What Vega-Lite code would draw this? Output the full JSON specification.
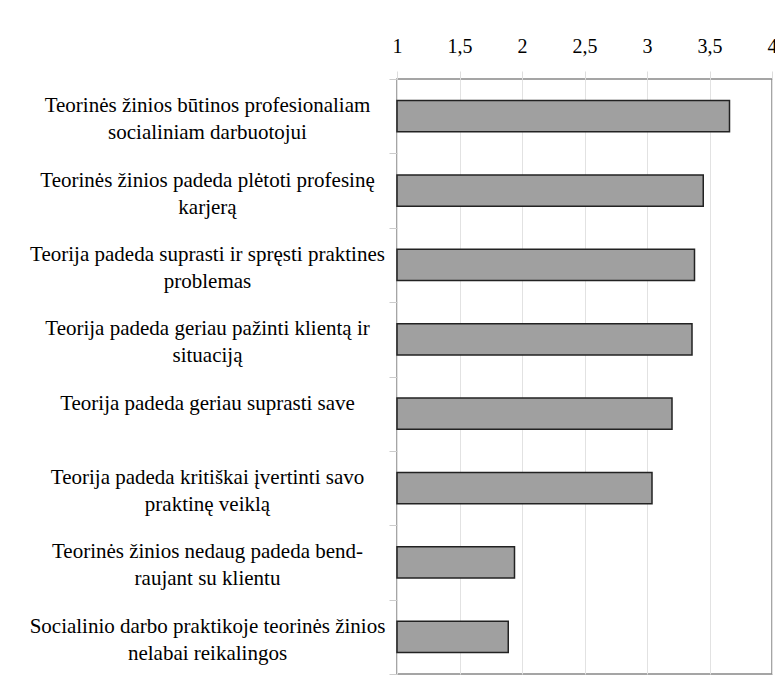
{
  "$schema": "https://vega.github.io/schema/vega-lite/v6.json",
  "autosize": {"type": "none"},
  "padding": {"left": 397, "top": 79, "right": 3, "bottom": 8},
  "width": 375,
  "height": 595,
  "background": "white",
  "data": {
    "values": [
      {"label": "Teorinės žinios būtinos profesionaliam|socialiniam darbuotojui", "score": 3.66},
      {"label": "Teorinės žinios padeda plėtoti profesinę|karjerą", "score": 3.45},
      {"label": "Teorija padeda suprasti ir spręsti praktines|problemas", "score": 3.38},
      {"label": "Teorija padeda geriau pažinti klientą ir|situaciją", "score": 3.36},
      {"label": "Teorija padeda geriau suprasti save", "score": 3.2},
      {"label": "Teorija padeda kritiškai įvertinti savo|praktinę veiklą", "score": 3.04},
      {"label": "Teorinės žinios nedaug padeda bend-|raujant su klientu", "score": 1.94},
      {"label": "Socialinio darbo praktikoje teorinės žinios|nelabai reikalingos", "score": 1.89}
    ]
  },
  "mark": {"type": "bar", "height": {"band": 0.42}, "fill": "#a0a0a0", "stroke": "#222222", "strokeWidth": 1.5},
  "encoding": {
    "y": {
      "field": "label",
      "type": "nominal",
      "sort": null,
      "scale": {"paddingInner": 0, "paddingOuter": 0},
      "axis": {
        "title": null,
        "orient": "left",
        "domain": false,
        "tickBand": "extent",
        "tickSize": 8,
        "tickColor": "#cccccc",
        "labelExpr": "split(datum.label, '|')",
        "labelAlign": "center",
        "labelBaseline": "line-bottom",
        "labelOffset": 2.5,
        "labelPadding": 182,
        "labelLimit": 500,
        "labelFont": "Liberation Serif",
        "labelFontSize": 21,
        "labelLineHeight": 27,
        "labelColor": "#000000",
        "grid": false
      }
    },
    "x": {
      "field": "score",
      "type": "quantitative",
      "scale": {"domain": [1, 4], "nice": false, "zero": false},
      "axis": {
        "title": null,
        "orient": "top",
        "domain": false,
        "values": [1, 1.5, 2, 2.5, 3, 3.5, 4],
        "labelExpr": "replace(toString(datum.value), '.', ',')",
        "tickSize": 8,
        "tickColor": "#dddddd",
        "gridColor": "#e2e2e2",
        "grid": true,
        "labelPadding": 15,
        "labelFont": "Liberation Serif",
        "labelFontSize": 20,
        "labelColor": "#000000",
        "labelFlush": false,
        "labelOverlap": false
      }
    },
    "x2": {"datum": 1}
  },
  "config": {
    "view": {"stroke": "#888888", "strokeWidth": 1.5}
  }
}
